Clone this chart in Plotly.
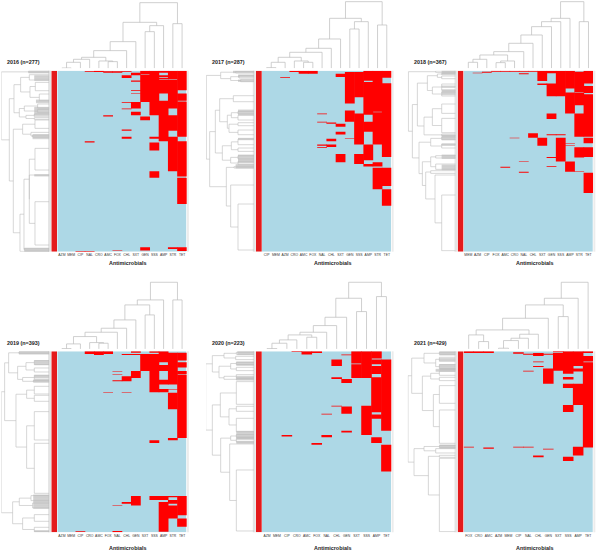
import plotly.graph_objects as go

# ---------- panel titles ----------
titles = ["2016 (n=277)", "2017 (n=287)", "2018 (n=367)", "2019 (n=393)", "2020 (n=223)", "2021 (n=429)"]

# ---------- antimicrobial order per panel ----------
cols_2016 = "AZM MEM CIP NAL CRO AMC FOX CHL SXT GEN SSS AMP STR TET".split()
cols_2017 = "CIP MEM AZM CRO AMC FOX NAL CHL SXT GEN SSS AMP STR TET".split()
cols_2018 = "MEM AZM CIP FOX AMC CRO NAL CHL SXT GEN SSS AMP STR TET".split()
cols_2019 = "AZM MEM CIP CRO AMC FOX NAL CHL GEN SXT SSS AMP STR TET".split()
cols_2020 = "AZM MEM CIP CRO AMC FOX NAL CHL GEN SXT SSS AMP TET".split()
cols_2021 = "FOX CRO AMC AZM MEM CIP NAL CHL GEN SXT SSS AMP TET".split()

# ---------- isolates: (number of rows, antimicrobials resistant) from top to bottom ----------
rows_2016 = [
    (1, "CRO GEN SSS AMP STR TET"), (1, "NAL CRO AMC FOX CHL GEN SSS AMP STR TET"), (1, "AMC FOX GEN SSS AMP STR TET"),
    (2, "SXT GEN SSS STR TET"), (1, "SXT SSS STR TET"), (1, "SXT GEN SSS STR TET"),
    (3, "CHL GEN SSS AMP STR TET"), (1, "CHL GEN SSS STR TET"), (2, "GEN SSS AMP STR TET"), (1, "GEN SSS TET"),
    (1, "GEN SSS AMP STR TET"), (2, "SXT GEN SSS AMP STR TET"), (13, "GEN SSS AMP STR TET"),
    (1, "SXT GEN SSS AMP STR"), (3, "GEN SSS AMP STR"), (1, "SXT GEN SSS AMP STR"), (11, "GEN SSS STR TET"),
    (1, "GEN SSS AMP STR"), (1, "GEN SSS AMP STR TET"), (1, "CHL SXT SSS AMP STR TET"), (9, "SXT SSS AMP STR TET"),
    (1, "CHL SSS AMP TET"), (1, "SSS AMP TET"), (3, "SSS AMP TET"), (5, "SXT SSS AMP TET"), (2, "AMC AMP STR TET"),
    (6, "GEN AMP STR TET"), (14, "AMP STR TET"), (2, "CHL AMP STR TET"), (9, "AMP TET"), (3, "CHL SSS AMP STR"),
    (4, "AMP STR"), (2, "NAL STR TET"), (12, "SSS STR TET"), (32, "STR TET"), (8, "SSS TET"), (2, "SSS"),
    (40, "TET"), (66, ""), (3, "GEN STR TET"), (2, "GEN TET"), (1, "FOX TET"), (1, "CIP NAL"),
]
rows_2017 = [
    (2, "CRO AMC FOX AMP STR TET"), (3, "AMC FOX GEN SSS AMP STR TET"), (5, "SXT GEN SSS AMP STR TET"),
    (1, "AZM GEN SSS AMP STR TET"), (5, "GEN SSS AMP STR"), (2, "GEN SSS STR"), (2, "GEN SSS AMP STR"),
    (22, "GEN SSS AMP STR TET"), (10, "GEN AMP STR TET"), (11, "AMP STR TET"), (2, "GEN AMP STR TET"),
    (1, "GEN AMP TET"), (2, "GEN AMP STR TET"), (1, "NAL GEN SSS AMP STR TET"), (1, "GEN SSS AMP STR TET"),
    (11, "GEN SSS STR TET"), (1, "NAL SSS AMP STR TET"), (2, "CHL SSS AMP STR TET"), (5, "SXT SSS AMP STR TET"),
    (8, "SSS AMP STR TET"), (4, "SXT SSS STR TET"), (6, "SSS STR TET"), (1, "GEN SSS STR TET"), (4, "CHL SSS STR TET"),
    (5, "SSS STR TET"), (2, "NAL CHL AMP TET"), (2, "CHL AMP TET"), (1, "NAL AMP TET"), (10, "AMP TET"),
    (5, "SXT SSS AMP TET"), (5, "SXT SSS AMP"), (3, "SXT SSS"), (3, "SSS STR"), (4, "AMP STR"), (2, ""),
    (29, "STR TET"), (5, "STR"), (26, "TET"), (73, ""),
]
rows_2018 = [
    (2, "FOX AMC CRO NAL CHL SXT GEN SSS AMP TET"), (2, "CIP SXT GEN SSS AMP STR TET"), (1, "AZM SXT GEN SSS AMP STR TET"),
    (2, "NAL SXT SSS AMP STR TET"), (14, "SXT SSS AMP STR TET"), (5, "SSS AMP STR TET"), (3, "SXT GEN SSS AMP STR"),
    (2, "GEN SSS AMP STR"), (5, "GEN SSS AMP STR TET"), (5, "GEN SSS STR TET"), (3, "GEN SSS STR TET"),
    (1, "GEN SSS AMP TET"), (3, "GEN SSS AMP STR"), (4, "GEN SSS AMP STR TET"), (18, "AMP STR TET"), (17, "AMP TET"),
    (11, "GEN STR TET"), (29, "STR TET"), (2, "CHL STR TET"), (2, "CHL GEN SSS STR TET"), (3, "CHL STR TET"), (2, "CHL"),
    (1, "CRO SXT SSS TET"), (10, "SXT SSS TET"), (1, "SXT SSS AMP"), (3, "SXT SSS"), (1, "SXT SSS AMP"), (3, "SSS"),
    (20, "SSS STR TET"), (1, "GEN SSS"), (1, "GEN SSS STR"), (7, "SSS"), (1, "NAL AMP"), (8, "AMP"), (2, "GEN AMP"),
    (2, "AMC AMP"), (7, "AMP"), (1, "AMP STR"), (2, "NAL"), (41, "TET"), (119, ""),
]
rows_2019 = [
    (3, "CRO AMC FOX GEN SSS AMP"), (3, "CRO AMC FOX AMP STR TET"), (2, "AMC CHL GEN SXT SSS AMP STR TET"),
    (12, "SXT SSS AMP STR TET"), (4, "SXT SSS AMP STR"), (6, "SXT SSS STR TET"), (5, "SXT SSS AMP STR TET"),
    (8, "SXT SSS AMP STR"), (1, "NAL GEN SSS STR TET"), (6, "GEN SSS STR TET"), (1, "NAL GEN SSS STR"),
    (3, "GEN SSS STR TET"), (4, "CHL GEN SSS STR TET"), (4, "CHL SSS STR TET"), (1, "CHL SSS AMP STR TET"),
    (2, "NAL CHL SSS AMP STR TET"), (7, "SSS AMP STR TET"), (10, "SSS TET"), (1, "SSS AMP STR TET"), (6, "SSS AMP TET"),
    (1, "FOX CHL TET"), (36, "STR TET"), (62, "TET"), (5, "STR"), (6, "SSS"), (115, ""), (3, "GEN SSS AMP STR TET"),
    (6, "GEN SSS AMP TET"), (4, "GEN STR TET"), (4, "CHL GEN AMP STR TET"), (4, "GEN AMP TET"), (1, "NAL AMP STR TET"),
    (20, "AMP STR TET"), (7, "AMP STR"), (18, "AMP TET"), (9, "AMP"), (2, "CIP NAL AMP"), (1, "NAL"),
]
rows_2020 = [
    (1, "CRO AMC FOX SXT SSS AMP"), (1, "AMC FOX SXT SSS AMP"), (2, "AMC SXT SSS AMP"), (1, "GEN SXT SSS AMP"),
    (4, "SXT SSS AMP"), (1, "SXT SSS"), (5, "CHL SXT SSS AMP TET"), (1, "CHL SSS AMP TET"), (2, "CHL SXT SSS TET"),
    (10, "SXT SSS AMP TET"), (4, "SXT SSS TET"), (1, "CHL SXT SSS AMP TET"), (1, "CHL AMP TET"), (5, "GEN AMP TET"),
    (28, "AMP TET"), (1, "CHL SSS AMP TET"), (7, "GEN SSS AMP TET"), (2, "GEN SSS TET"), (1, "NAL SSS TET"),
    (5, "SSS AMP TET"), (15, "SSS TET"), (2, "GEN SSS"), (3, "SSS"), (2, "CIP NAL"), (1, "NAL"), (7, "AMP"), (2, "FOX"),
    (33, "TET"), (75, ""),
]
rows_2021 = [
    (2, "FOX CRO AMC SXT SSS AMP TET"), (2, "FOX CRO AMC CIP SSS AMP TET"), (2, "CIP CHL SXT SSS AMP"),
    (2, "NAL CHL GEN SXT SSS AMP"), (3, "CHL SXT SSS AMP"), (13, "SXT SSS AMP TET"), (2, "CHL SXT SSS AMP"),
    (9, "SXT SSS AMP TET"), (2, "CHL SXT SSS TET"), (4, "SXT SSS TET"), (5, "GEN SXT SSS AMP TET"),
    (2, "NAL GEN SSS AMP TET"), (5, "GEN SSS TET"), (8, "GEN TET"), (6, "GEN SSS TET"), (10, "GEN TET"),
    (10, "SSS AMP TET"), (40, "AMP TET"), (17, "SSS TET"), (82, "TET"), (2, "FOX CIP NAL AMP TET"), (3, "AMC AMP"),
    (2, "GEN AMP"), (14, "AMP"), (3, "CHL"), (1, "CHL SSS"), (9, "SSS"), (169, ""),
]

# ---------- column dendrograms: [merge height, left, right] ----------
top_2016 = [197, [138, [80, [53, [33, [27, [18, [1, "AZM", "MEM"], "CIP"], "NAL"], [22, "CRO", [20, "AMC", "FOX"]]], "CHL"], "SXT"],
                  [128, [110, "GEN", "SSS"], "AMP"]], [134, "STR", "TET"]]
top_2017 = [200, [150, [88, [60, [48, [33, [18, [2, "CIP", "MEM"], "AZM"], [22, "CRO", [18, "AMC", "FOX"]]], "NAL"], "CHL"], "SXT"],
                  [140, [118, "GEN", "SSS"], "AMP"]], [130, "STR", "TET"]]
top_2018 = [200, [150, [140, [125, [100, [75, [50, [40, [27, [18, "MEM", "AZM"], "CIP"], [22, [17, "FOX", "AMC"], "CRO"]], "NAL"], "CHL"], "SXT"], "GEN"], "SSS"], "AMP"],
            [140, "STR", "TET"]]
top_2019 = [200, [147, [132, [87, [62, [50, [37, [15, [1, "AZM", "MEM"], "CIP"], [19, "CRO", [17, "AMC", "FOX"]]], "NAL"], "CHL"], "GEN"], [102, "SXT", "SSS"]], "AMP"],
            [147, "STR", "TET"]]
top_2020 = [200, [152, [95, [70, [50, [42, [27, [17, [1, "AZM", "MEM"], "CIP"], "CRO"], [35, "AMC", "FOX"]], "NAL"], "CHL"], "GEN"], [112, "SXT", "SSS"]],
            [157, "AMP", "TET"]]
top_2021 = [200, [152, [132, [92, [57, [42, "FOX", [22, "CRO", "AMC"]], [44, [32, [25, [2, "AZM", "MEM"], "CIP"], "NAL"], "CHL"]], "GEN"], [97, "SXT", "SSS"]], "AMP"], "TET"]

# ---------- row dendrograms: [merge distance, upper, lower], leaves = leaf order (0-543) ----------
left_2016 = [144, [62, 1, 6],
             [120,
              [106, [86, [60, 12, 28], [58, [42, 35, 60], [30, 70, 90]]],
               [90, [75, [35, 100, 112], [35, 116, 126]], [70, [45, 130, 138], [45, 141, 146]]]],
              [108, [80, [43, 148, 173], [55, 185, [50, 193, 199]]],
               [88, [76, [60, [43, 233, 298], [60, 313, [43, 393, 523]]], [75, 533, 538]], 542]]]]
left_2017 = [143, [100, [55, 2, 7], [70, [45, 14, 22], [40, 26, 33]]],
             [133, [116, [103, [62, 75, 93], [80, [68, [48, 122, 130], [48, 134, 148]], [75, [48, 156, 165], [48, 178, 192]]]],
                    [95, [68, [48, 205, 222], [48, 232, 242]], [70, [48, 255, 265], [48, 272, 282]]]],
              [83, [60, 288, 292], [70, 343, [48, 400, 538]]]]]
left_2018 = [142, [60, 1, 5],
             [130, [115, [85, [55, [42, 8, 12], [42, 16, 24]], [70, [42, 40, 58], [42, 64, 76]]],
                    [95, [70, [42, 100, 128], [42, 143, 186]], [42, 190, 195]]],
              [110, [75, [42, 199, 207], [42, 220, 232]],
               [100, [75, [60, 255, 262], [60, 280, 296]], [90, [75, 300, 308], [62, 313, [42, 373, 540]]]]]]]
left_2019 = [144, [134, [122, [91, 2, 7], [95, [70, [45, 28, 40], [45, 50, 62]], [80, [45, 72, 85], [48, 88, 92]]]],
                   [100, [68, [45, 105, 128], [45, 132, 150]], [68, [45, 181, 266], [45, 276, 426]]]],
             [110, [90, [55, 433, 448], [50, 455, 470]], [80, [45, 490, 510], [45, 528, 541]]]]
left_2020 = [145, [125, [90, [53, 3, 9], [55, 15, 25]], [105, [70, [53, 33, 40], [53, 48, 58]], [90, [53, 70, 80], [53, 82, 86]]]],
             [125, [101, [53, 91, 159], [75, [53, 165, 180], [53, 201, 241]]],
              [100, [70, [53, 250, 258], [53, 262, 272]], [73, 278, [53, 356, 539]]]]]
left_2021 = [143, [132, [95, [49, 3, 9], [60, [49, 18, 30], [49, 40, 52]]],
                   [100, [75, [49, 60, 72], [49, 78, 88]], [67, [49, 103, 156], [49, 176, 276]]]],
             [125, [95, [49, 283, 288], [60, 292, 305]], [82, [49, 312, 318], [49, 321, 541]]]]

# ---------- tight groups of leaves in the row dendrograms: (first, last, merge distance) ----------
tight_2016 = [(0, 7, 62), (15, 30, 45), (88, 96, 40), (110, 135, 45), (192, 205, 50), (312, 316, 45), (533, 543, 75)]
tight_2017 = [(0, 6, 63), (13, 20, 48), (28, 33, 48), (118, 133, 48), (203, 208, 48), (253, 278, 48), (282, 292, 55)]
tight_2018 = [(0, 10, 42), (46, 50, 42), (58, 73, 42), (193, 208, 42), (220, 225, 42), (253, 263, 42), (283, 298, 42)]
tight_2019 = [(0, 8, 91), (28, 40, 45), (72, 80, 45), (86, 93, 48), (431, 471, 48), (538, 543, 45)]
tight_2020 = [(0, 10, 50), (32, 42, 53), (75, 85, 53), (240, 258, 53), (258, 265, 53), (270, 277, 53)]
tight_2021 = [(1, 11, 49), (22, 28, 49), (40, 56, 49), (281, 291, 49), (54, 60, 60)]

panels = [
    (titles[0], cols_2016, rows_2016, top_2016, left_2016, tight_2016),
    (titles[1], cols_2017, rows_2017, top_2017, left_2017, tight_2017),
    (titles[2], cols_2018, rows_2018, top_2018, left_2018, tight_2018),
    (titles[3], cols_2019, rows_2019, top_2019, left_2019, tight_2019),
    (titles[4], cols_2020, rows_2020, top_2020, left_2020, tight_2020),
    (titles[5], cols_2021, rows_2021, top_2021, left_2021, tight_2021),
]

W, H = 600, 552
ROW_TOP = [70.7, 351.3]
STRIP_LEFT = [51.3, 256.0, 457.7]
HEAT_H = 181.0
LINE = "#bcbcbc"


def px(v):
    return v / W


def py(v):
    return 1 - v / H


def walk(node, pos, a, b):
    """Walk a merge tree; returns (position, height) and appends bracket lines."""
    if not isinstance(node, list):
        return (pos[node] if isinstance(node, str) else node), 0
    h, l, r = node
    p1, h1 = walk(l, pos, a, b)
    p2, h2 = walk(r, pos, a, b)
    a += [p1, p1, p2, p2, None]
    b += [h1, h, h, h2, None]
    return (p1 + p2) / 2, h


fig = go.Figure()
layout = {}
shapes = []
notes = []
ax = 0


def axes(xd, yd, xr, yr, **xextra):
    global ax
    ax += 1
    base = dict(showgrid=False, zeroline=False, showline=False, ticks="", showticklabels=False, fixedrange=True)
    xa = dict(base, domain=[px(xd[0]), px(xd[1])], range=xr, anchor=f"y{ax}")
    xa.update(xextra)
    ya = dict(base, domain=[py(yd[1]), py(yd[0])], range=yr, anchor=f"x{ax}")
    layout[f"xaxis{ax}"] = xa
    layout[f"yaxis{ax}"] = ya
    return f"x{ax}", f"y{ax}"


for i, (title, cols, rows, top, left, tight) in enumerate(panels):
    c, r = i % 3, i // 3
    ax_left = STRIP_LEFT[c]
    hx0 = ax_left + 6.0
    hx1 = hx0 + 129.4
    y0 = ROW_TOP[r]
    y1 = y0 + HEAT_H

    # pale strips holding the (illegible) row labels
    for a, b, col in [(ax_left - 3.2, ax_left - 0.3, "#e4e4e4"), (hx1 + 0.3, hx1 + 2.2, "#ececec")]:
        shapes.append(dict(type="rect", xref="paper", yref="paper", x0=px(a), x1=px(b), y0=py(y1), y1=py(y0),
                           fillcolor=col, line_width=0, layer="below"))

    # heatmap cells: a light-blue susceptible field, resistant runs per antimicrobial drawn on it
    n = sum(cnt for cnt, s in rows)
    bx, blen, bstart = [], [], []
    for k, name in enumerate(cols):
        row = 0
        run = None
        for cnt, s in rows:
            if name in s.split():
                if run is None:
                    run = row
            elif run is not None:
                bx.append(k); bstart.append(run); blen.append(row - run)
                run = None
            row += cnt
        if run is not None:
            bx.append(k); bstart.append(run); blen.append(row - run)

    xa, ya = axes((hx0, hx1), (y0, y1), [-0.5, len(cols) - 0.5], [n, 0],
                  showticklabels=True, tickmode="array", tickvals=list(range(len(cols))), ticktext=cols,
                  tickfont=dict(family="Liberation Sans", size=3.4, color="#333333"), side="bottom", tickangle=0)
    fig.add_trace(go.Heatmap(z=[[0]], y=[0, n], x=[-0.5, len(cols) - 0.5], xaxis=xa, yaxis=ya, zmin=0, zmax=1,
                             showscale=False, hoverinfo="skip", colorscale=[[0, "#ADD8E6"], [1, "#ADD8E6"]]))
    fig.add_trace(go.Bar(x=bx, y=blen, base=bstart, width=1.06, xaxis=xa, yaxis=ya, hoverinfo="skip", showlegend=False,
                         marker=dict(color="#FF0000", line=dict(width=0))))

    # annotation strip: all isolates belong to one group
    xa, ya = axes((ax_left, ax_left + 5.7), (y0, y1), [-0.5, 0.5], [n, 0])
    fig.add_trace(go.Heatmap(z=[[1]], y=[0, n], x=[-0.5, 0.5], xaxis=xa, yaxis=ya, zmin=0, zmax=1, showscale=False,
                             hoverinfo="skip", colorscale=[[0, "#E41A1C"], [1, "#E41A1C"]]))

    # column dendrogram
    pos = {name: k for k, name in enumerate(cols)}
    dx, dy = [], []
    walk(top, pos, dx, dy)
    xa, ya = axes((hx0, hx1), (y0 - 2.4 - 68.3, y0 - 2.4), [-0.5, len(cols) - 0.5], [0, 205])
    fig.add_trace(go.Scatter(x=dx, y=dy, xaxis=xa, yaxis=ya, mode="lines", hoverinfo="skip", showlegend=False,
                             line=dict(color=LINE, width=0.7)))

    # row dendrogram
    ly_pos, lh = [], []
    walk(left, {}, ly_pos, lh)
    for first, last, dist in tight:
        for u in range(first, last + 1, 2):
            ly_pos += [u, u, None]
            lh += [dist, 0, None]
    lright = ax_left - 2.0
    xa, ya = axes((lright - 48, lright), (y0, y1), [144, 0], [543, 0])
    fig.add_trace(go.Scatter(x=lh, y=ly_pos, xaxis=xa, yaxis=ya, mode="lines", hoverinfo="skip", showlegend=False,
                             line=dict(color=LINE, width=0.6)))

    # texts
    notes.append(dict(text=f"<b>{title}</b>", x=px(ax_left - 27.5), y=py(y0 - 8.4), xref="paper", yref="paper",
                      xanchor="center", yanchor="middle", showarrow=False,
                      font=dict(family="Liberation Sans", size=5.4, color="#222222")))
    notes.append(dict(text="<b>Antimicrobials</b>", x=px(hx0 + 70.5), y=py(y1 + (11 if r == 0 else 15.4)), xref="paper", yref="paper",
                      xanchor="center", yanchor="middle", showarrow=False,
                      font=dict(family="Liberation Sans", size=5.4, color="#222222")))

fig.update_layout(width=W, height=H, autosize=False, margin=dict(l=0, r=0, t=0, b=0), barmode="overlay",
                  paper_bgcolor="white", plot_bgcolor="white", showlegend=False,
                  shapes=shapes, annotations=notes, **layout)
fig.write_html("out.html", config=dict(displayModeBar=False, staticPlot=True),
               post_script="document.body.style.margin='0';")
